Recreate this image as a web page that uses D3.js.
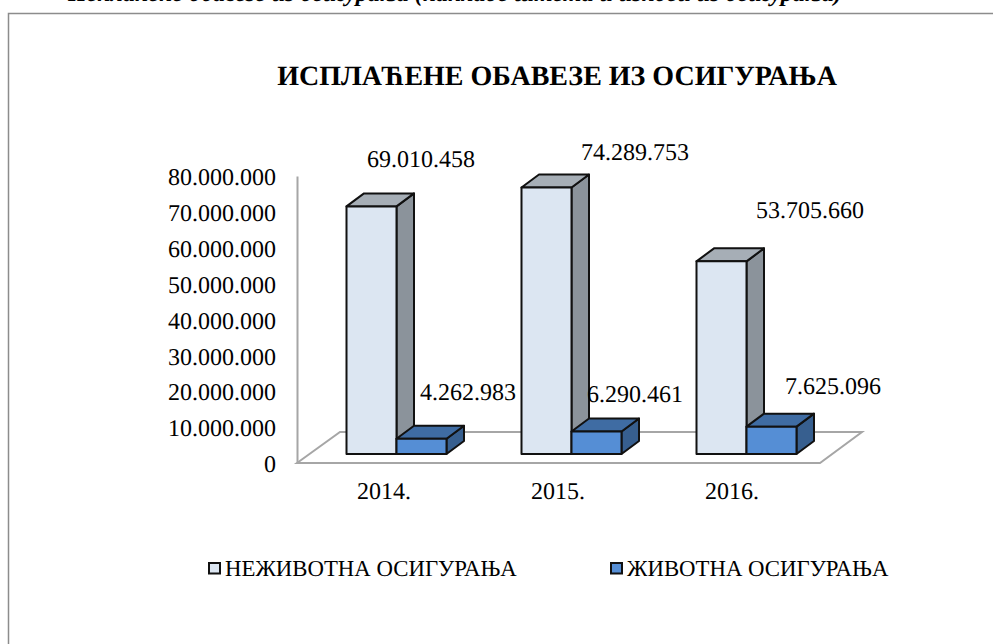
<!DOCTYPE html>
<html lang="en">
<head>
  <meta charset="UTF-8">
  <title>Исплаћене обавезе из осигурања</title>
  <script src="https://d3js.org/d3.v7.min.js"></script>
  <style>
    html, body { margin: 0; padding: 0; background: #fff; }
    svg { display: block; }
    text { font-family: "Liberation Serif", serif; fill: #000; text-rendering: geometricPrecision; }
  </style>
</head>
<body>
  <svg id="chart" width="993" height="644"></svg>

  <script>
    const categories = ['2014.', '2015.', '2016.'];
    const seriesNames = ['НЕЖИВОТНА ОСИГУРАЊА', 'ЖИВОТНА ОСИГУРАЊА'];
    const nonLife = [69010458, 74289753, 53705660];
    const life = [4262983, 6290461, 7625096];
    const yTicks = [0, 10000000, 20000000, 30000000, 40000000, 50000000, 60000000, 70000000, 80000000];

    const svg = d3.select('#chart');
    const dots = d3.formatLocale({ decimal: ',', thousands: '.', grouping: [3], currency: ['', ''] }).format(',d');

    const depthX = 17.5, depthY = -13;      // 3d offset of the bar tops
    const floorX = 43, floorY = -31;        // 3d offset of the floor
    const baseShift = -9;                   // bars stand inside the floor

    const colors = [
      { front: '#dce6f2', side: '#8b939b', top: '#a6aeb6' },
      { front: '#558ed5', side: '#375f8f', top: '#3f6ca3' }
    ];

    const y = d3.scaleLinear().domain([0, 80000000]).range([463, 176]);
    const xLabel = d3.scaleBand().domain(categories).range([297, 819]);
    const x = d3.scaleBand().domain(categories).range([309, 834]).paddingInner(0.4286).paddingOuter(0.2143);
    const xSeries = d3.scaleBand().domain([0, 1]).range([0, x.bandwidth()]);

    // page frame and the cut off caption above it
    svg.append('path')
      .attr('d', 'M8.5,644V13.5H993')
      .attr('fill', 'none')
      .attr('stroke', '#8c8c8c')
      .attr('stroke-width', 1.5);

    svg.append('text')
      .attr('x', 68)
      .attr('y', 1)
      .attr('font-size', 24)
      .attr('font-weight', 'bold')
      .attr('font-style', 'italic')
      .text('Исплаћене обавезе из осигурања (накнаде штета и износи из осигурања)');

    svg.append('text')
      .attr('x', 557)
      .attr('y', 85)
      .attr('text-anchor', 'middle')
      .attr('font-size', 28)
      .attr('font-weight', 'bold')
      .text('ИСПЛАЋЕНЕ ОБАВЕЗЕ ИЗ ОСИГУРАЊА');

    // floor
    const x0 = 297, x1 = 820;
    svg.append('path')
      .attr('d', `M${x0},${y(0)}L${x0 + floorX},${y(0) + floorY}H${x1 + floorX - 1}L${x1},${y(0)}Z`)
      .attr('fill', 'none')
      .attr('stroke', '#a6a6a6')
      .attr('stroke-width', 2);

    // value axis
    const yAxis = d3.axisLeft(y).tickValues(yTicks).tickFormat(dots).tickSize(0).tickPadding(21);
    const axisG = svg.append('g').attr('transform', `translate(${x0},0)`).call(yAxis);
    axisG.select('.domain').attr('stroke', '#a6a6a6').attr('stroke-width', 2);
    axisG.selectAll('text')
      .attr('font-family', '"Liberation Serif", serif')
      .attr('font-size', 24)
      .attr('fill', '#000')
      .attr('dy', '0.36em');

    // category labels
    svg.selectAll('text.cat')
      .data(categories)
      .join('text')
      .attr('class', 'cat')
      .attr('x', d => xLabel(d) + xLabel.bandwidth() / 2)
      .attr('y', 499)
      .attr('text-anchor', 'middle')
      .attr('font-size', 24)
      .text(d => d);

    // bars
    const barsData = [];
    categories.forEach((c, i) => {
      barsData.push({ cat: c, s: 0, value: nonLife[i] });
      barsData.push({ cat: c, s: 1, value: life[i] });
    });

    const bar = svg.selectAll('g.bar')
      .data(barsData)
      .join('g')
      .attr('class', 'bar')
      .attr('stroke', '#111')
      .attr('stroke-width', 2)
      .attr('stroke-linejoin', 'round');

    const left = d => x(d.cat) + xSeries(d.s);
    const right = d => left(d) + xSeries.bandwidth();
    const topY = d => y(d.value) + baseShift;
    const baseY = y(0) + baseShift;

    bar.append('path')
      .attr('d', d => `M${right(d)},${topY(d)}l${depthX},${depthY}V${baseY + depthY}l${-depthX},${-depthY}Z`)
      .attr('fill', d => colors[d.s].side);
    bar.append('path')
      .attr('d', d => `M${left(d)},${topY(d)}l${depthX},${depthY}H${right(d) + depthX}l${-depthX},${-depthY}Z`)
      .attr('fill', d => colors[d.s].top);
    bar.append('rect')
      .attr('x', left)
      .attr('y', topY)
      .attr('width', xSeries.bandwidth())
      .attr('height', d => baseY - topY(d))
      .attr('fill', d => colors[d.s].front);

    // data labels, placed by hand the way the original chart has them
    const labelCenters = [421, 468, 635, 635, 810, 833];
    const labelBase = [167, 400, 160, 402, 218, 394];
    svg.selectAll('text.val')
      .data(barsData)
      .join('text')
      .attr('class', 'val')
      .attr('x', (d, i) => labelCenters[i])
      .attr('y', (d, i) => labelBase[i])
      .attr('text-anchor', 'middle')
      .attr('font-size', 24)
      .text(d => dots(d.value));

    // legend
    const legendX = [209, 611];
    const legend = svg.selectAll('g.legend')
      .data(seriesNames)
      .join('g')
      .attr('class', 'legend')
      .attr('transform', (d, i) => `translate(${legendX[i]},563)`);
    legend.append('rect')
      .attr('width', 11)
      .attr('height', 10.5)
      .attr('fill', (d, i) => colors[i].front)
      .attr('stroke', '#111')
      .attr('stroke-width', 2);
    legend.append('text')
      .attr('x', 16)
      .attr('y', 13)
      .attr('font-size', 22.8)
      .text(d => d);
  </script>
</body>
</html>
